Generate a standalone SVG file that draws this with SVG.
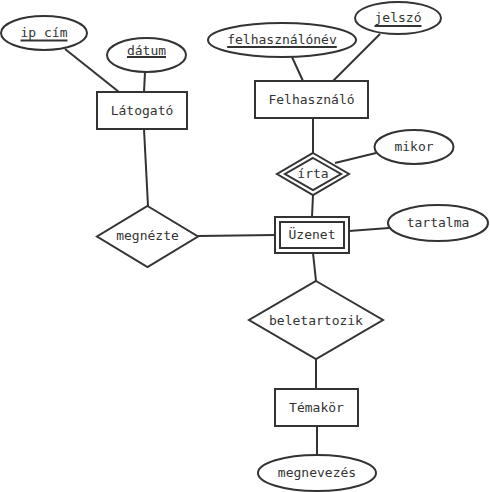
<svg xmlns="http://www.w3.org/2000/svg" width="490" height="492" viewBox="0 0 490 492">
<style>
.s{fill:#fff;stroke:#333;stroke-width:2}
.c line{stroke:#333;stroke-width:2}
.u{stroke:#333;stroke-width:2}
text{font-family:"DejaVu Sans Mono","Liberation Mono",monospace;font-size:13px;fill:#333;text-anchor:middle;dominant-baseline:central}
</style>
<rect width="490" height="492" fill="#fff"/>
<g class="c" id="connectors">
<line x1="65" y1="49" x2="119" y2="92"/>
<line x1="145" y1="72" x2="144" y2="92"/>
<line x1="292" y1="57" x2="303" y2="81"/>
<line x1="380" y1="34" x2="333" y2="81"/>
<line x1="313" y1="118" x2="313" y2="153"/>
<line x1="335" y1="163" x2="376" y2="153"/>
<line x1="313" y1="195" x2="312" y2="217"/>
<line x1="349" y1="231" x2="389" y2="228"/>
<line x1="144" y1="129" x2="148" y2="206"/>
<line x1="198" y1="236" x2="275" y2="235"/>
<line x1="313" y1="253" x2="316" y2="281"/>
<line x1="316" y1="359" x2="316" y2="389"/>
<line x1="317" y1="426" x2="317" y2="455"/>
</g>
<g id="ipcim"><ellipse class="s" cx="44" cy="33" rx="43" ry="17"/><text x="44" y="32">ip cím</text><line class="u" x1="20.5" y1="40.5" x2="67.5" y2="40.5"/></g>
<g id="datum"><ellipse class="s" cx="146.5" cy="55" rx="39.5" ry="17"/><text x="146.5" y="50">dátum</text><line class="u" x1="127" y1="57" x2="166" y2="57"/></g>
<g id="latogato"><rect class="s" x="97" y="92" width="90" height="37"/><text x="142" y="110.5">Látogató</text></g>
<g id="felhasznalonev"><ellipse class="s" cx="282" cy="40" rx="74" ry="17"/><text x="282" y="39">felhasználónév</text><line class="u" x1="227.2" y1="47" x2="336.8" y2="47"/></g>
<g id="jelszo"><ellipse class="s" cx="398" cy="18" rx="43" ry="16"/><text x="398" y="17.5">jelszó</text><line class="u" x1="374.5" y1="26" x2="421.5" y2="26"/></g>
<g id="felhasznalo"><rect class="s" x="255" y="81" width="113" height="37"/><text x="311.5" y="99.5">Felhasználó</text></g>
<g id="irta"><polygon class="s" points="313,153 349,174 313,195 277,174"/><polygon class="s" points="313,158 341,174 313,190 285,174"/><text x="313" y="173">írta</text></g>
<g id="mikor"><ellipse class="s" cx="414" cy="147" rx="39.5" ry="17"/><text x="414" y="146">mikor</text></g>
<g id="uzenet"><rect class="s" x="275" y="217" width="74" height="36"/><rect class="s" x="280" y="222" width="64" height="26"/><text x="312" y="234.5">Üzenet</text></g>
<g id="tartalma"><ellipse class="s" cx="438" cy="223" rx="50" ry="18"/><text x="438" y="222">tartalma</text></g>
<g id="megnezte"><polygon class="s" points="147.5,206 198,236.5 147.5,267 97,236.5"/><text x="147.5" y="235.5">megnézte</text></g>
<g id="beletartozik"><polygon class="s" points="316,281 383,320 316,359 249,320"/><text x="316" y="320">beletartozik</text></g>
<g id="temakor"><rect class="s" x="275" y="389" width="83" height="37"/><text x="316.5" y="407.5">Témakör</text></g>
<g id="megnevezes"><ellipse class="s" cx="317" cy="473" rx="59" ry="18"/><text x="317" y="472">megnevezés</text></g>
</svg>
